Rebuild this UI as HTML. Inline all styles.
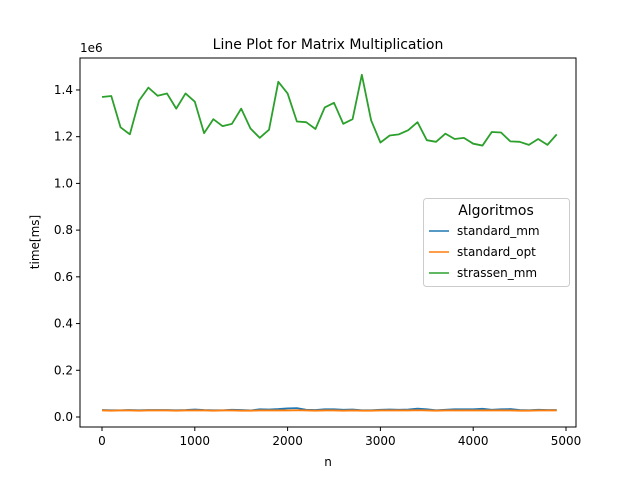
<!DOCTYPE html>
<html><head><meta charset="utf-8"><style>
body{margin:0;background:#fff;font-family:"DejaVu Sans","Liberation Sans",sans-serif}
</style></head><body>
<svg width="640" height="480" xmlns="http://www.w3.org/2000/svg" font-family="DejaVu Sans, Liberation Sans, sans-serif">
<rect width="640" height="480" fill="#fff"/>
<text x="328" y="49" font-size="14" text-anchor="middle">Line Plot for Matrix Multiplication</text>
<text x="80" y="52" font-size="12">1e6</text>
<g id="ticks"></g>
<g id="lines"></g>
<rect x="80" y="58" width="496" height="369" fill="none" stroke="#000" stroke-width="1"/>
<text x="328" y="466" font-size="12" text-anchor="middle">n</text>
<text x="39" y="242" font-size="12" text-anchor="middle" transform="rotate(-90 39 242)">time[ms]</text>
<g>
<rect x="423.5" y="198.5" width="146" height="88" rx="3" fill="#fff" stroke="#ccc"/>
<text x="496" y="215" font-size="14" text-anchor="middle">Algoritmos</text>
<line x1="429" y1="231" x2="449" y2="231" stroke="#1f77b4" stroke-width="1.5"/>
<text x="457" y="235" font-size="12">standard_mm</text>
<line x1="429" y1="252" x2="449" y2="252" stroke="#ff7f0e" stroke-width="1.5"/>
<text x="457" y="256" font-size="12">standard_opt</text>
<line x1="429" y1="273" x2="449" y2="273" stroke="#2ca02c" stroke-width="1.5"/>
<text x="457" y="277" font-size="12">strassen_mm</text>
</g>
</svg>
<script>
const nValues=[];for(let i=0;i<50;i++)nValues.push(i*100);
const strassen=[1.37,1.374,1.24,1.21,1.355,1.41,1.375,1.385,1.32,1.385,1.35,1.215,1.275,1.245,1.255,1.32,1.235,1.195,1.23,1.435,1.385,1.265,1.262,1.233,1.325,1.345,1.255,1.275,1.465,1.27,1.175,1.205,1.21,1.228,1.262,1.185,1.178,1.213,1.19,1.195,1.17,1.162,1.22,1.218,1.18,1.178,1.165,1.19,1.165,1.21];
const standardMm=[0.03,0.029,0.029,0.03,0.029,0.03,0.03,0.03,0.029,0.03,0.032,0.03,0.029,0.029,0.031,0.03,0.028,0.033,0.032,0.034,0.037,0.038,0.031,0.03,0.033,0.033,0.031,0.032,0.029,0.029,0.031,0.032,0.031,0.032,0.036,0.033,0.029,0.031,0.033,0.033,0.033,0.035,0.031,0.033,0.034,0.03,0.029,0.031,0.03,0.03];
const standardOpt=[0.028,0.027,0.028,0.028,0.027,0.028,0.028,0.028,0.027,0.028,0.028,0.028,0.027,0.028,0.028,0.027,0.027,0.028,0.028,0.028,0.028,0.029,0.028,0.027,0.028,0.028,0.027,0.028,0.027,0.027,0.028,0.028,0.028,0.028,0.029,0.028,0.027,0.028,0.028,0.028,0.028,0.028,0.028,0.028,0.028,0.027,0.027,0.028,0.028,0.028];
const xTicks=[0,1000,2000,3000,4000,5000];
const yTicks=[0,0.2,0.4,0.6,0.8,1.0,1.2,1.4];
const NS="http://www.w3.org/2000/svg";
function xs(v){return 102+v*(464/5000);}
function ys(v){return 417-v*233.6;}
const tg=document.getElementById('ticks');
xTicks.forEach(t=>{
 const l=document.createElementNS(NS,'line');
 
 
 l.setAttribute('x1',xs(t));l.setAttribute('x2',xs(t));l.setAttribute('y1',427);l.setAttribute('y2',431);l.setAttribute('stroke','#000');
 tg.appendChild(l);
 const tx=document.createElementNS(NS,'text');
 
 
 tx.setAttribute('x',xs(t));tx.setAttribute('y',445);tx.setAttribute('font-size','12');tx.setAttribute('text-anchor','middle');
 tx.textContent=t;tg.appendChild(tx);
});
yTicks.forEach(t=>{
 const l=document.createElementNS(NS,'line');
 
 
 l.setAttribute('x1',76);l.setAttribute('x2',80);l.setAttribute('y1',ys(t));l.setAttribute('y2',ys(t));l.setAttribute('stroke','#000');
 tg.appendChild(l);
 const tx=document.createElementNS(NS,'text');
 
 
 tx.setAttribute('x',73);tx.setAttribute('y',ys(t)+4);tx.setAttribute('font-size','12');tx.setAttribute('text-anchor','end');
 tx.textContent=t.toFixed(1);tg.appendChild(tx);
});
const lg=document.getElementById('lines');
[[standardMm,'#1f77b4','line-standard-mm'],[standardOpt,'#ff7f0e','line-standard-opt'],[strassen,'#2ca02c','line-strassen-mm']].forEach(([d,c,n])=>{
 const p=document.createElementNS(NS,'polyline');
 
 
 p.setAttribute('points',d.map((v,i)=>xs(nValues[i])+','+ys(v)).join(' '));
 p.setAttribute('fill','none');p.setAttribute('stroke',c);p.setAttribute('stroke-width','1.8');p.setAttribute('stroke-linejoin','round');
 lg.appendChild(p);
});
</script>
</body></html>
